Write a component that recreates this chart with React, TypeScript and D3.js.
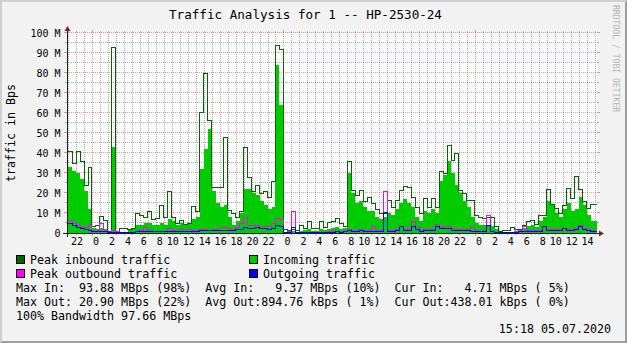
import React from 'react';
import * as d3 from 'd3';

const TITLE = 'Traffic Analysis for 1 -- HP-2530-24';
const Y_TITLE = 'traffic in Bps';
const WATERMARK = 'RRDTOOL / TOBI OETIKER';
const DATE_STAMP = '15:18 05.07.2020';
const RANGE_START = new Date(2020, 6, 2, 20, 52);
const RANGE_END = new Date(2020, 6, 5, 15, 18);
const SLOT_START = new Date(2020, 6, 2, 21, 0);
const SLOT_MINUTES = 30;

// values in M (Bps), one per 30-minute slot
const peakIn = [
  41, 35, 41, 36, 24, 33,
  3.5, 4, 8.5, 6.5, 1, 93, 1, 2.5,
  2.5, 2, 2.5, 10, 9, 8, 11, 7,
  7.5, 14, 8, 21, 8, 5, 6.5, 4.5,
  5, 13.5, 10.7, 60.5, 80, 56.5, 23, 23,
  23, 47.7, 11.5, 10, 8, 10.7, 43, 28,
  21, 24, 20, 20.7, 18, 25.7, 94, 92,
  2, 1.5, 2, 1.5, 4, 2.5, 5.7, 2.3,
  2.3, 5.7, 3, 5.2, 5.7, 7.3, 5, 3.2,
  35.7, 21.5, 19, 21.2, 15.7, 18, 15, 12,
  10, 10, 16.5, 13, 16.5, 21.5, 23.5, 23,
  18, 13, 10, 17.3, 13, 17.3, 13, 30.7,
  30, 44, 36.5, 40, 21.5, 20, 16.5, 16.5,
  9, 8, 7.3, 8, 8, 3.2, 0.7, 1.5,
  1.5, 2.8, 1.8, 2, 4, 5.7, 6.5, 4.5,
  9, 9, 21.8, 14.5, 12.3, 10, 14, 22.3,
  17.3, 28.2, 22, 15.7, 12.3, 14.5, 14.5,
];

const incoming = [
  33, 31, 30, 27, 21, 12,
  2.5, 2, 2.5, 2, 0.5, 43, 0.5, 0.5,
  0.5, 1.5, 2, 4, 4, 5, 5, 4,
  4, 5, 4, 7, 6, 4, 5, 4,
  5, 7, 8, 32, 42, 52, 21, 15,
  13, 14, 8, 4, 6, 10, 22, 22,
  20, 19, 16, 14, 12, 13, 84, 64,
  0.5, 0.5, 1, 0.5, 1, 1.5, 2, 1,
  1, 2, 1.5, 2, 2.5, 3, 2, 2.5,
  30, 20, 15, 16, 13, 11, 11, 8,
  7, 8, 10, 9, 12, 15, 17, 15,
  13, 8, 6, 11, 10, 12, 10, 26,
  29, 36, 30, 24, 20, 16, 13, 8,
  5, 4, 4, 4, 3.5, 2, 0.5, 0.5,
  0.5, 0.5, 1, 1.5, 2.5, 3.5, 4, 3,
  6, 8, 16, 14, 10, 8, 12, 15,
  11, 12, 18, 14, 9, 6, 6,
];

const peakOut = [
  6.5, 5, 4, 3, 3, 4,
  1.5, 1.5, 5, 1.5, 0.5, 1.5, 1, 0.5,
  0.5, 0.5, 0.5, 1, 1.5, 3, 1.5, 1,
  1, 1, 1, 2.3, 1.5, 1, 2, 1,
  2, 1.5, 1.5, 2, 2, 1.5, 2, 2,
  3, 3, 2.5, 2, 3, 5, 8, 4,
  4, 4, 3.5, 3.5, 3.5, 5, 7.3, 7,
  0.5, 1, 11, 0.5, 0.5, 0.5, 0.5, 0.3,
  0.5, 0.5, 0.5, 1, 1, 1, 0.7, 1,
  1.8, 1.5, 1.5, 1.8, 1.5, 1.5, 3.2, 1.5,
  1.3, 21, 1.5, 1.5, 2, 3.5, 2, 2.5,
  5.7, 3, 1.5, 1.8, 1.8, 2, 4.5, 3,
  3.5, 3.5, 2.5, 2, 2, 2, 2, 2.7,
  1.5, 1, 1.5, 9, 1, 0.5, 0.3, 0.3,
  0.3, 0.5, 0.7, 1.5, 3.2, 1.5, 1.2, 1.2,
  1.5, 3.5, 2, 2, 2, 2, 2.5, 2,
  2, 2.5, 3.7, 2.5, 1.8, 1.2, 1,
];

const outgoing = [
  5, 4, 3, 2.5, 2, 1.5,
  1, 1, 1, 0.8, 0.3, 0.5, 0.3, 0.3,
  0.3, 0.5, 0.5, 0.8, 0.8, 1, 1, 0.8,
  0.8, 0.8, 0.8, 0.8, 1, 0.8, 1, 0.8,
  1, 1, 1, 1.5, 1.5, 1.5, 1.5, 1.5,
  1.5, 1.5, 1.5, 1.5, 2, 2, 3, 2.5,
  2.5, 3, 2.5, 2.5, 2, 2.5, 4, 3.5,
  0.3, 0.5, 3, 0.5, 0.3, 0.3, 0.5, 0.3,
  0.3, 0.5, 0.5, 0.5, 0.5, 0.7, 0.5, 0.7,
  1.5, 1, 1, 1.5, 1, 1, 1, 1,
  1, 10.5, 1, 1, 1.5, 3.2, 1.5, 1.5,
  3.5, 2, 1, 1.5, 1.5, 1.5, 3.2, 2.5,
  2.5, 2.5, 1.5, 1.5, 1.5, 1.5, 1.5, 1,
  0.8, 0.8, 1, 4, 1, 0.5, 0.3, 0.3,
  0.3, 0.3, 0.5, 0.8, 1, 0.8, 0.8, 0.8,
  1, 3.2, 1.5, 1.5, 1.5, 1.5, 2.3, 1.5,
  1.5, 2, 3.5, 2, 1.5, 1, 0.8,
];

const yTicks = [0, 10, 20, 30, 40, 50, 60, 70, 80, 90, 100];
const yTickLabels = ['0', '10 M', '20 M', '30 M', '40 M', '50 M', '60 M', '70 M', '80 M', '90 M', '100 M'];
const yMinorTicks = [5, 15, 25, 35, 45, 55, 65, 75, 85, 95];

const legendItems = [
  { label: 'Peak inbound traffic', color: '#006600', col: 0, row: 0 },
  { label: 'Incoming traffic', color: '#00CC00', col: 1, row: 0 },
  { label: 'Peak outbound traffic', color: '#FF00FF', col: 0, row: 1 },
  { label: 'Outgoing traffic', color: '#0000FF', col: 1, row: 1 },
];

const statLines = [
  'Max In:  93.88 MBps (98%)  Avg In:   9.37 MBps (10%)  Cur In:   4.71 MBps ( 5%)',
  'Max Out: 20.90 MBps (22%)  Avg Out:894.76 kBps ( 1%)  Cur Out:438.01 kBps ( 0%)',
  '100% Bandwidth 97.66 MBps',
];

const MONO = '"DejaVu Sans Mono", monospace';

export default function App() {
  const W = 627, H = 343;
  const left = 67, right = 597, top = 33, bottom = 233;
  const x = d3.scaleTime().domain([RANGE_START, RANGE_END]).range([left, right]);
  const y = d3.scaleLinear().domain([0, 100]).range([bottom, top]);

  const slotTimes = peakIn.map((_, i) => d3.timeMinute.offset(SLOT_START, i * SLOT_MINUTES));
  const toPts = (vals: number[]) => [
    { t: RANGE_START, v: vals[0] },
    ...vals.map((v, i) => ({ t: slotTimes[i], v })),
    { t: RANGE_END, v: vals[vals.length - 1] },
  ];

  const area = d3.area<{ t: Date; v: number }>()
    .x(d => x(d.t)).y0(y(0)).y1(d => y(d.v)).curve(d3.curveStepAfter);
  const line = d3.line<{ t: Date; v: number }>()
    .x(d => x(d.t)).y(d => y(d.v)).curve(d3.curveStepAfter);

  const hours = d3.timeHour.every(1)!.range(RANGE_START, RANGE_END);
  const isMidnight = (t: Date) => t.getHours() === 0;
  const labelHours = d3.timeHour.every(2)!.range(RANGE_START, RANGE_END);
  const snap = (v: number) => Math.round(v) + 0.5;

  const minorGrid = 'rgba(143,143,143,0.75)';
  const majorGrid = 'rgba(222,79,79,0.6)';
  const axisCol = '#1F1F1F';
  const arrowCol = '#801F1F';

  return (
    <svg width={W} height={H} style={{ position: 'absolute', left: 0, top: 0, display: 'block' }}
      fontFamily={MONO}>
      <rect x={0} y={0} width={W} height={H} fill="#F2F2F2" />
      {/* 3d border */}
      <polygon points={`0,${H} 2,${H - 2} 2,2 ${W - 2},2 ${W},0 0,0`} fill="#CFCFCF" />
      <polygon points={`2,${H - 2} ${W - 2},${H - 2} ${W - 2},2 ${W},0 ${W},${H} 0,${H}`} fill="#9E9E9E" />
      {/* canvas */}
      <rect x={left} y={top} width={right - left} height={bottom - top} fill="#FFFFFF" />

      {/* vertical grid */}
      {hours.map((t, i) => {
        const px = snap(x(t));
        const major = isMidnight(t);
        const c = major ? majorGrid : minorGrid;
        return (
          <g key={'vg' + i}>
            <line x1={px} x2={px} y1={bottom} y2={top} stroke={c} strokeDasharray="1,1" />
            <line x1={px} x2={px} y1={bottom} y2={bottom + (major ? 3 : 2)} stroke={c} />
            <line x1={px} x2={px} y1={top} y2={top - (major ? 3 : 2)} stroke={c} />
          </g>
        );
      })}
      {/* horizontal grid */}
      {yMinorTicks.map((v, i) => {
        const py = snap(y(v)) - 1;
        return (
          <g key={'hm' + i}>
            <line x1={left} x2={right} y1={py} y2={py} stroke={minorGrid} strokeDasharray="1,1" />
            <line x1={left - 2} x2={left} y1={py} y2={py} stroke={minorGrid} />
            <line x1={right} x2={right + 2} y1={py} y2={py} stroke={minorGrid} />
          </g>
        );
      })}
      {yTicks.slice(1).map((v, i) => {
        const py = snap(y(v)) - 1;
        return (
          <g key={'hM' + i}>
            <line x1={left} x2={right} y1={py} y2={py} stroke={majorGrid} strokeDasharray="1,1" />
            <line x1={left - 3} x2={left} y1={py} y2={py} stroke={majorGrid} />
            <line x1={right} x2={right + 3} y1={py} y2={py} stroke={majorGrid} />
          </g>
        );
      })}

      {/* data */}
      <path d={area(toPts(incoming)) || ''} fill="#00CC00" shapeRendering="crispEdges" />
      <path d={line(toPts(peakIn)) || ''} fill="none" stroke="#006600" strokeWidth={1} shapeRendering="crispEdges" />
      <path d={line(toPts(peakOut)) || ''} fill="none" stroke="#FF00FF" strokeWidth={1} shapeRendering="crispEdges" />
      <path d={line(toPts(outgoing)) || ''} fill="none" stroke="#0000FF" strokeWidth={1} shapeRendering="crispEdges" />

      {/* axes */}
      <line x1={left - 4} x2={right + 4} y1={bottom + 0.5} y2={bottom + 0.5} stroke={axisCol} />
      <line x1={left + 0.5} x2={left + 0.5} y1={bottom + 4} y2={top - 4} stroke={axisCol} />
      <polygon points={`${right + 2},${bottom - 2.5} ${right + 2},${bottom + 3.5} ${right + 7},${bottom + 0.5}`} fill={arrowCol} />
      <polygon points={`${left - 2.5},${top - 2} ${left + 3.5},${top - 2} ${left + 0.5},${top - 7}`} fill={arrowCol} />

      {/* y labels */}
      {yTicks.map((v, i) => (
        <text key={'yl' + i} x={60.5} y={y(v) + 4} fontSize={10} textAnchor="end" fill="#000">
          {yTickLabels[i]}
        </text>
      ))}
      {/* x labels */}
      {labelHours.map((t, i) => (
        <text key={'xl' + i} x={x(t) + 1} y={245} fontSize={10} textAnchor="middle" fill="#000"
          style={{ whiteSpace: 'pre' }}>
          {String(t.getHours()).padStart(2, ' ')}
        </text>
      ))}

      {/* titles */}
      <text x={169} y={18.5} fontSize={12.6} fill="#000" style={{ whiteSpace: 'pre' }}>{TITLE}</text>
      <text transform={`translate(15,133) rotate(-90)`} fontSize={11.65} textAnchor="middle" fill="#000">{Y_TITLE}</text>
      <text transform={`translate(613,5) rotate(90)`} fontSize={8.1} fill="#B4B4B4" style={{ whiteSpace: 'pre' }}>{WATERMARK}</text>

      {/* legend */}
      {legendItems.map((it, i) => {
        const bx = it.col === 0 ? 16 : 249;
        const by = 255 + it.row * 14;
        return (
          <g key={'lg' + i}>
            <rect x={bx + 0.5} y={by + 0.5} width={8} height={8} fill={it.color} stroke="#000" strokeWidth={1} />
            <text x={bx + 14} y={by + 8.5} fontSize={11.65} fill="#000">{it.label}</text>
          </g>
        );
      })}
      {statLines.map((s, i) => (
        <text key={'st' + i} x={16} y={291.5 + i * 14} fontSize={11.65} fill="#000" style={{ whiteSpace: 'pre' }}>{s}</text>
      ))}
      <text x={611} y={333} fontSize={11.65} textAnchor="end" fill="#000">{DATE_STAMP}</text>
    </svg>
  );
}
